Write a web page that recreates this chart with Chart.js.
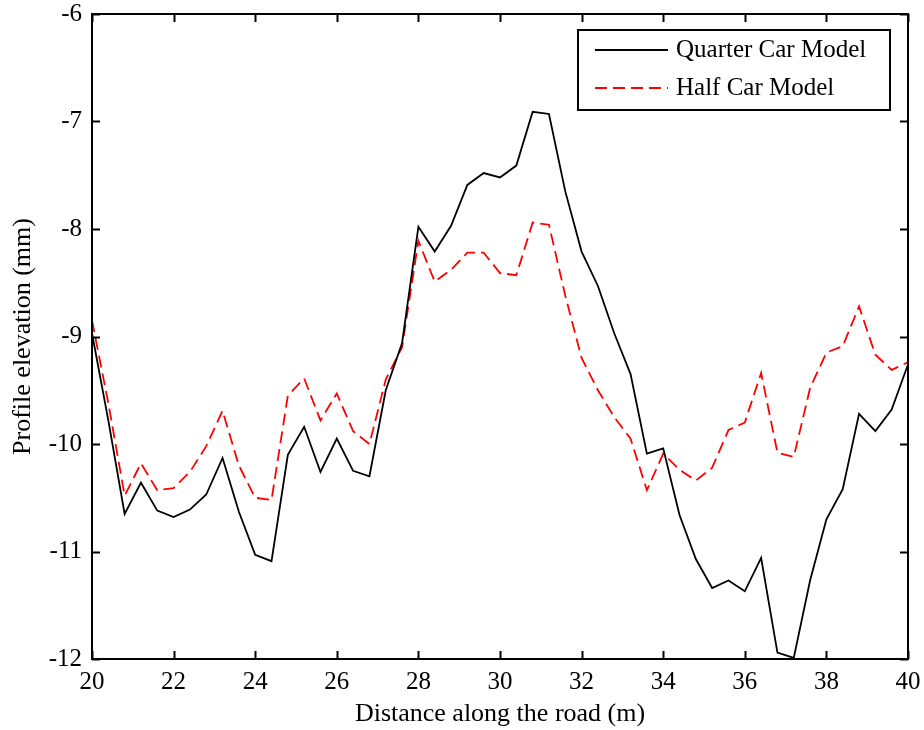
<!DOCTYPE html>
<html>
<head>
<meta charset="utf-8">
<title>Profile elevation</title>
<script src="https://cdn.jsdelivr.net/npm/chart.js@4.4.1/dist/chart.umd.min.js"></script>
<style>
  html, body { margin: 0; padding: 0; background: #fff; }
  #wrap { width: 924px; height: 730px; }
</style>
</head>
<body>
<div id="wrap"><canvas id="profileChart" width="924" height="730"></canvas></div>
<script>
// distance along the road (m), sampled every 0.4 m
const distance = [
  20.0, 20.4, 20.8, 21.2, 21.6, 22.0, 22.4, 22.8, 23.2, 23.6,
  24.0, 24.4, 24.8, 25.2, 25.6, 26.0, 26.4, 26.8, 27.2, 27.6,
  28.0, 28.4, 28.8, 29.2, 29.6, 30.0, 30.4, 30.8, 31.2, 31.6,
  32.0, 32.4, 32.8, 33.2, 33.6, 34.0, 34.4, 34.8, 35.2, 35.6,
  36.0, 36.4, 36.8, 37.2, 37.6, 38.0, 38.4, 38.8, 39.2, 39.6, 40.0
];

// profile elevation (mm)
const quarterCar = [
  -8.97, -9.78, -10.65, -10.36, -10.62, -10.68, -10.61, -10.47, -10.13, -10.63,
  -11.03, -11.09, -10.10, -9.84, -10.26, -9.95, -10.25, -10.30, -9.50, -9.06,
  -7.98, -8.21, -7.97, -7.59, -7.48, -7.52, -7.41, -6.91, -6.93, -7.65,
  -8.21, -8.53, -8.97, -9.35, -10.09, -10.04, -10.66, -11.07, -11.34, -11.27,
  -11.37, -11.06, -11.94, -11.99, -11.27, -10.70, -10.42, -9.72, -9.88, -9.68, -9.26
];

const halfCar = [
  -8.85, -9.62, -10.48, -10.18, -10.43, -10.41, -10.26, -10.02, -9.69, -10.20,
  -10.50, -10.52, -9.55, -9.39, -9.78, -9.53, -9.88, -10.00, -9.40, -9.10,
  -8.11, -8.49, -8.38, -8.22, -8.22, -8.41, -8.43, -7.94, -7.96, -8.62,
  -9.20, -9.50, -9.75, -9.95, -10.43, -10.09, -10.24, -10.34, -10.22, -9.87,
  -9.80, -9.34, -10.08, -10.12, -9.48, -9.15, -9.09, -8.72, -9.17, -9.31, -9.24
];

const xTicks = [20, 22, 24, 26, 28, 30, 32, 34, 36, 38, 40];
const yTicks = [-12, -11, -10, -9, -8, -7, -6];

const FONT = 'Liberation Serif, Times New Roman, serif';

function pts(ys) { return distance.map((x, i) => ({ x: x, y: ys[i] })); }

// matlab style frame: box round the axes + inward ticks on all four sides
const framePlugin = {
  id: 'frame',
  afterDatasetsDraw(chart) {
    const { ctx, chartArea: a, scales } = chart;
    const len = 8;
    ctx.save();
    ctx.strokeStyle = '#000';
    ctx.lineWidth = 2;
    ctx.strokeRect(a.left, a.top, a.right - a.left, a.bottom - a.top);
    ctx.beginPath();
    scales.x.ticks.forEach(t => {
      const px = Math.round(scales.x.getPixelForValue(t.value)) + 0.5;
      ctx.moveTo(px, a.bottom); ctx.lineTo(px, a.bottom - len);
      ctx.moveTo(px, a.top); ctx.lineTo(px, a.top + len);
    });
    scales.y.ticks.forEach(t => {
      const py = Math.round(scales.y.getPixelForValue(t.value)) + 0.5;
      ctx.moveTo(a.left, py); ctx.lineTo(a.left + len, py);
      ctx.moveTo(a.right, py); ctx.lineTo(a.right - len, py);
    });
    ctx.stroke();
    ctx.restore();
  },
  afterDraw(chart) {
    // legend box in the upper right corner of the axes
    const { ctx, chartArea: a } = chart;
    const bx = a.right - 330, by = a.top + 16, bw = 312, bh = 80;
    ctx.save();
    ctx.fillStyle = '#fff';
    ctx.fillRect(bx, by, bw, bh);
    ctx.strokeStyle = '#000';
    ctx.lineWidth = 2;
    ctx.strokeRect(bx, by, bw, bh);
    ctx.font = '25px ' + FONT;
    ctx.textBaseline = 'middle';
    chart.data.datasets.forEach((ds, i) => {
      const ly = by + 20 + i * 38;
      ctx.strokeStyle = ds.borderColor;
      ctx.lineWidth = ds.borderWidth;
      ctx.setLineDash(ds.borderDash || []);
      ctx.beginPath();
      ctx.moveTo(bx + 17, ly); ctx.lineTo(bx + 90, ly);
      ctx.stroke();
      ctx.setLineDash([]);
      ctx.fillStyle = '#000';
      ctx.fillText(ds.label, bx + 98, ly);
    });
    ctx.restore();
  }
};

new Chart(document.getElementById('profileChart').getContext('2d'), {
  type: 'line',
  data: {
    datasets: [{
      label: 'Quarter Car Model', data: pts(quarterCar),
      borderColor: '#000', borderWidth: 1.8, pointRadius: 0, tension: 0, fill: false
    }, {
      label: 'Half Car Model', data: pts(halfCar),
      borderColor: '#ff0000', borderWidth: 1.8, borderDash: [12, 6], pointRadius: 0, tension: 0, fill: false
    }]
  },
  options: {
    responsive: false, animation: false,
    layout: { padding: { top: 14, right: 16, left: 0, bottom: 0 } },
    plugins: { legend: { display: false }, tooltip: { enabled: false } },
    scales: {
      x: {
        type: 'linear', min: 20, max: 40,
        afterBuildTicks: s => { s.ticks = xTicks.map(v => ({ value: v })); },
        afterFit: s => { s.height = 71; s.paddingLeft = 0; s.paddingRight = 0; },
        grid: { display: false, drawTicks: false }, border: { display: false },
        ticks: { color: '#000', padding: 8, maxRotation: 0, font: { family: FONT, size: 25 } },
        title: { display: true, text: 'Distance along the road (m)', color: '#000', padding: 0,
                 font: { family: FONT, size: 26 } }
      },
      y: {
        min: -12, max: -6,
        afterBuildTicks: s => { s.ticks = yTicks.map(v => ({ value: v })); },
        afterFit: s => { s.width = 92; s.paddingTop = 0; s.paddingBottom = 0; },
        grid: { display: false, drawTicks: false }, border: { display: false },
        ticks: { color: '#000', padding: 10, font: { family: FONT, size: 25 } },
        title: { display: true, text: 'Profile elevation (mm)', color: '#000', padding: { top: 8, bottom: 0 },
                 font: { family: FONT, size: 26 } }
      }
    }
  },
  plugins: [framePlugin]
});
</script>
</body>
</html>
